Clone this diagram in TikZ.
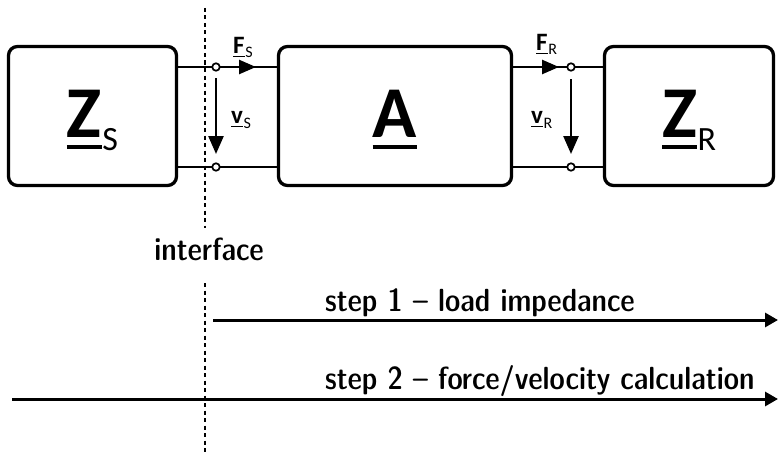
\documentclass[tikz,border=0pt]{standalone}
\usepackage{fontspec}
\newfontfamily\calfont{Carlito}
\usetikzlibrary{arrows.meta,positioning}

% underlined letter for complex quantities
\newcommand\ulin[1]{\setbox0\hbox{#1}\rlap{\rule[-0.16em]{\wd0}{0.05em}}\box0}
% #1 size, #2 subscript size, #3 letter, #4 subscript, #5 drop
\newcommand\cvar[5]{{\calfont\fontsize{#1}{#1}\selectfont\bfseries\ulin{#3}}\kern0.06em\raisebox{-#5}{\calfont\fontsize{#2}{#2}\selectfont #4}}

\tikzset{
  blockbox/.style={draw, rounded corners=9pt, line width=3.3pt, text height=47pt, text depth=5pt, inner sep=0pt},
  wire/.style={line width=2.5pt},
  term/.style={draw, circle, fill=white, line width=1.7pt, minimum size=7.5pt, inner sep=0pt},
  ifline/.style={line width=2.7pt, dash pattern=on 4pt off 3.5pt},
  flow/.style={line width=3pt, -{Triangle[length=13pt,width=14pt]}},
  steptext/.style={font=\fontfamily{lmss}\fontseries{sbc}\fontsize{32}{34}\selectfont, anchor=base west, inner sep=0pt}
}

\begin{document}
\begin{tikzpicture}[x=1pt,y=-1pt]
    \useasboundingbox (0,0) rectangle (778,452);
    % the three blocks
    \node[blockbox, minimum width=168pt, minimum height=139pt] (zs) at (92.5,116) {\cvar{73pt}{34pt}{Z}{S}{13pt}};
    \node[blockbox, minimum width=233pt, minimum height=139pt] (a) at (395,116) {\cvar{73pt}{34pt}{A}{}{0pt}};
    \node[blockbox, minimum width=169pt, minimum height=139pt] (zr) at (689,116) {\cvar{73pt}{34pt}{Z}{R}{13pt}};
    % wires and terminals
    \draw[wire] (zs.east |- 0,67) -- (a.west |- 0,67);
    \draw[wire] (zs.east |- 0,167) -- (a.west |- 0,167);
    \draw[wire] (a.east |- 0,67) -- (zr.west |- 0,67);
    \draw[wire] (a.east |- 0,167) -- (zr.west |- 0,167);
    % interface
    \coordinate (if1) at (205,8);
    \coordinate (if2) at (205,228);
    \coordinate (if3) at (205,283);
    \coordinate (if4) at (205,452);
    \draw[ifline] (if1) -- (if2);
    \draw[ifline] (if3) -- (if4);
    \node[steptext, anchor=base] (iflabel) at (209,260) {interface};
    % forces and velocities
    \node[term] (s1) at (216,67) {};
    \node[term] (s2) at (216,167) {};
    \node[term] (r1) at (571,67) {};
    \node[term] (r2) at (571,167) {};
    \coordinate (fs) at (256,67);
    \coordinate (fr) at (559,67);
    \draw[wire, -{Triangle[length=17pt,width=14pt]}] (s1.east) -- (fs);
    \draw[wire, -{Triangle[length=17pt,width=14pt]}] (a.east |- 0,67) -- (fr);
    \draw[wire, -{Triangle[length=18pt,width=15pt]}] (216,78) -- (216,154);
    \draw[wire, -{Triangle[length=18pt,width=15pt]}] (571,79) -- (571,154);
    \node[anchor=base west, inner sep=0pt] (fslabel) at (233,53) {\cvar{25pt}{16pt}{F}{S}{5pt}};
    \node[anchor=base west, inner sep=0pt] (frlabel) at (536,50) {\cvar{25pt}{16pt}{F}{R}{5pt}};
    \node[anchor=base west, inner sep=0pt] (vslabel) at (231,123) {\cvar{25pt}{16pt}{v}{S}{5pt}};
    \node[anchor=base west, inner sep=0pt] (vrlabel) at (531,123) {\cvar{25pt}{16pt}{v}{R}{5pt}};
    % calculation steps
    \coordinate (st1) at (213,320);
    \coordinate (en1) at (778,320);
    \coordinate (st2) at (12,399);
    \coordinate (en2) at (778,399);
    \draw[flow] (st1) -- (en1);
    \draw[flow] (st2) -- (en2);
    \node[steptext] (step1) at (325,311) {step 1 -- load impedance};
    \node[steptext] (step2) at (325,389) {step 2 -- force/velocity calculation};
\end{tikzpicture}
\end{document}
